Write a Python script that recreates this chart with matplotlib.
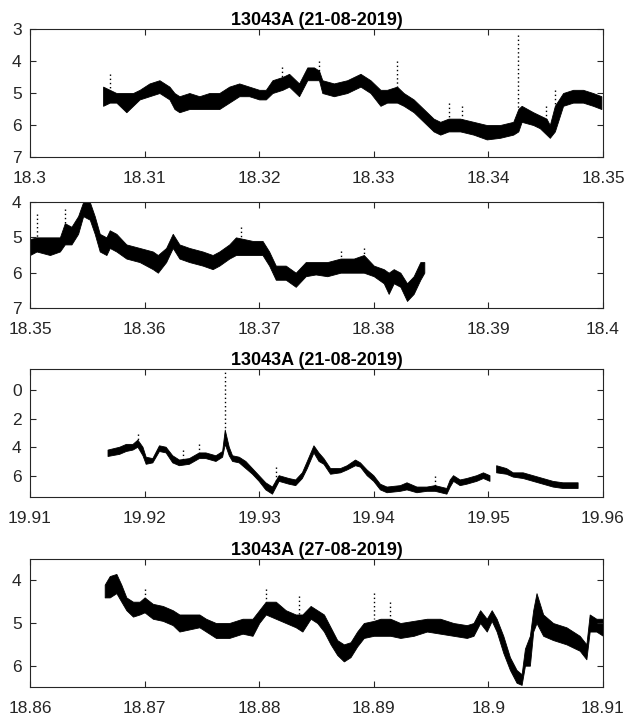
import numpy as np
import matplotlib.pyplot as plt

plt.rcParams['font.family'] = ['Liberation Sans', 'DejaVu Sans']

# ---- panel 1 : 13043A (21-08-2019), 18.30 - 18.35 ----
p1_x = [18.30638, 18.30696, 18.30754, 18.30841, 18.30899, 18.30957, 18.31043, 18.3113,
        18.31217, 18.31261, 18.31304, 18.31391, 18.31478, 18.31565, 18.31652, 18.31739,
        18.31826, 18.31913, 18.32, 18.32058, 18.32116, 18.32203, 18.32261, 18.32348,
        18.3242, 18.32478, 18.32522, 18.32551, 18.32652, 18.32768, 18.32884, 18.32971,
        18.33058, 18.33116, 18.33203, 18.33261, 18.33348, 18.33435, 18.33522, 18.3358,
        18.33652, 18.33754, 18.3387, 18.33986, 18.34101, 18.34217, 18.34261, 18.3429,
        18.34391, 18.34449, 18.34507, 18.34536, 18.3458, 18.34652, 18.34739, 18.34826,
        18.34913, 18.34986]
p1_lo = [4.8, 4.9, 5.0, 5.0, 5.0, 4.9, 4.7, 4.6, 4.8, 5.0, 5.1, 5.0, 5.1, 5.0, 5.0, 4.8,
         4.7, 4.8, 4.9, 4.9, 4.6, 4.5, 4.4, 4.7, 4.2, 4.2, 4.3, 4.6, 4.7, 4.6, 4.4, 4.6,
         4.9, 4.9, 4.8, 5.0, 5.2, 5.5, 5.8, 5.9, 5.8, 5.8, 5.9, 6.0, 6.0, 5.9, 5.5, 5.4,
         5.6, 5.7, 5.8, 6.0, 5.4, 5.0, 4.9, 4.9, 5.0, 5.1]
p1_hi = [5.4, 5.3, 5.3, 5.6, 5.4, 5.2, 5.1, 5.0, 5.2, 5.5, 5.6, 5.5, 5.5, 5.5, 5.5, 5.3,
         5.1, 5.1, 5.2, 5.2, 5.0, 4.9, 4.8, 5.1, 4.6, 4.6, 4.6, 5.0, 5.1, 5.0, 4.8, 5.0,
         5.4, 5.3, 5.3, 5.4, 5.6, 5.9, 6.2, 6.3, 6.2, 6.2, 6.3, 6.45, 6.4, 6.3, 6.2, 5.9,
         6.0, 6.1, 6.3, 6.4, 6.2, 5.4, 5.3, 5.3, 5.4, 5.5]
p1_spk_x = [18.30696, 18.32203, 18.32522, 18.33203, 18.33652, 18.33774, 18.34261, 18.34507, 18.3458]
p1_spk_top = [4.4, 4.2, 4.0, 4.0, 5.3, 5.4, 3.2, 5.4, 4.9]
p1_spk_base = [4.9, 4.5, 4.3, 4.8, 5.8, 5.8, 5.5, 5.8, 5.4]

# ---- panel 2 : continuation, 18.35 - 18.40 ----
p2_x = [18.35, 18.35058, 18.35174, 18.35261, 18.35304, 18.35362, 18.3542, 18.35464,
        18.35522, 18.35565, 18.35609, 18.35667, 18.35696, 18.35754, 18.35841, 18.35957,
        18.36072, 18.36116, 18.36188, 18.36246, 18.36304, 18.36391, 18.36507, 18.36594,
        18.36652, 18.36739, 18.36797, 18.36942, 18.37029, 18.37087, 18.37145, 18.37232,
        18.37319, 18.37406, 18.37493, 18.37594, 18.3771, 18.37826, 18.37913, 18.38,
        18.38087, 18.3813, 18.38174, 18.38232, 18.3829, 18.38348, 18.38406, 18.38441]
p2_lo = [5.05, 5.0, 5.0, 5.0, 4.6, 4.7, 4.4, 4.0, 4.0, 4.4, 4.9, 5.0, 4.8, 4.9, 5.2, 5.3,
         5.4, 5.5, 5.3, 4.9, 5.2, 5.3, 5.4, 5.5, 5.4, 5.2, 5.0, 5.1, 5.1, 5.4, 5.8, 5.8,
         6.0, 5.7, 5.7, 5.7, 5.6, 5.6, 5.5, 5.8, 5.9, 6.0, 5.9, 6.0, 6.3, 6.1, 5.7, 5.7]
p2_hi = [5.5, 5.4, 5.5, 5.4, 5.2, 5.2, 4.9, 4.4, 4.5, 4.9, 5.4, 5.5, 5.3, 5.4, 5.6, 5.7,
         5.9, 6.0, 5.7, 5.3, 5.6, 5.7, 5.8, 5.9, 5.8, 5.6, 5.5, 5.5, 5.5, 5.8, 6.2, 6.2,
         6.4, 6.1, 6.05, 6.1, 6.0, 6.0, 6.0, 6.1, 6.3, 6.6, 6.3, 6.4, 6.8, 6.6, 6.2, 6.0]
p2_spk_x = [18.35058, 18.35304, 18.3684, 18.3771, 18.37913]
p2_spk_top = [4.35, 4.2, 4.7, 5.4, 5.3]
p2_spk_base = [5.0, 4.6, 5.0, 5.6, 5.5]

# ---- panel 3 : 13043A (21-08-2019), 19.91 - 19.96 ----
p3_x = [19.91681, 19.91783, 19.91841, 19.91899, 19.91942, 19.91986, 19.92014, 19.92072,
        19.9213, 19.92188, 19.92246, 19.92304, 19.92391, 19.92478, 19.92536, 19.92623,
        19.92681, 19.92704, 19.92739, 19.92768, 19.92826, 19.92884, 19.92942, 19.93,
        19.93058, 19.93116, 19.93174, 19.93261, 19.93319, 19.93377, 19.9342, 19.93478,
        19.93522, 19.93565, 19.93623, 19.9371, 19.93768, 19.93841, 19.93884, 19.93942,
        19.94, 19.94058, 19.94116, 19.94232, 19.9429, 19.94377, 19.94464, 19.94536,
        19.94638, 19.94667, 19.94696, 19.94754, 19.94812, 19.94899, 19.94957, 19.95014,
        19.95043, 19.95072, 19.95159, 19.95217, 19.95304, 19.95391, 19.95478, 19.95565,
        19.95652, 19.95783]
p3_lo = [4.2, 4.0, 3.8, 3.8, 3.5, 4.0, 4.7, 4.8, 3.9, 4.0, 4.6, 4.9, 4.8, 4.4, 4.4, 4.6,
         4.3, 2.8, 4.0, 4.6, 4.7, 5.0, 5.5, 6.0, 6.5, 6.8, 6.0, 6.2, 6.3, 5.8, 5.0, 3.9,
         4.4, 4.8, 5.5, 5.5, 5.3, 4.9, 5.1, 5.6, 6.0, 6.6, 6.8, 6.7, 6.5, 6.8, 6.8, 6.7,
         6.9, 6.3, 6.0, 6.3, 6.2, 6.0, 5.8, 6.0, np.nan, 5.3, 5.5, 5.8, 5.8, 6.0, 6.2, 6.4,
         6.5, 6.5]
p3_hi = [4.65, 4.5, 4.3, 4.2, 4.0, 4.6, 5.2, 5.1, 4.3, 4.4, 5.1, 5.3, 5.2, 4.8, 4.8, 5.0,
         4.7, 3.8, 4.6, 5.0, 5.1, 5.5, 5.9, 6.4, 7.0, 7.3, 6.4, 6.6, 6.7, 6.2, 5.5, 4.4,
         5.0, 5.2, 5.9, 5.8, 5.6, 5.3, 5.4, 6.0, 6.4, 7.0, 7.2, 7.1, 7.0, 7.2, 7.1, 7.1,
         7.3, 6.8, 6.4, 6.7, 6.6, 6.4, 6.2, 6.4, np.nan, 5.8, 5.9, 6.1, 6.2, 6.4, 6.6, 6.8,
         6.9, 6.9]
p3_spk_x = [19.91942, 19.92333, 19.92478, 19.92704, 19.93145, 19.94536]
p3_spk_top = [3.1, 4.2, 3.8, -1.6, 5.4, 6.0]
p3_spk_base = [3.5, 4.9, 4.4, 2.8, 6.6, 6.7]

# ---- panel 4 : 13043A (27-08-2019), 18.86 - 18.91 ----
p4_x = [18.86652, 18.86696, 18.86754, 18.86797, 18.86841, 18.86899, 18.86957, 18.87,
        18.87072, 18.87159, 18.87246, 18.87304, 18.87391, 18.87478, 18.87536, 18.87623,
        18.87739, 18.87855, 18.87942, 18.88, 18.88058, 18.88145, 18.88232, 18.88319,
        18.88377, 18.88449, 18.88507, 18.88565, 18.88623, 18.88681, 18.88739, 18.88797,
        18.88855, 18.88913, 18.89, 18.89058, 18.89145, 18.89232, 18.89348, 18.89464,
        18.8958, 18.89696, 18.89812, 18.8987, 18.89928, 18.89986, 18.90029, 18.90072,
        18.9013, 18.90188, 18.90246, 18.9029, 18.90319, 18.90362, 18.90391, 18.9042,
        18.90478, 18.90565, 18.90681, 18.90797, 18.90855, 18.90884, 18.90942, 18.91]
p4_lo = [4.1, 3.9, 3.85, 4.1, 4.4, 4.5, 4.5, 4.4, 4.55, 4.6, 4.7, 4.8, 4.8, 4.8, 4.9, 5.0,
         5.0, 4.9, 4.9, 4.7, 4.5, 4.5, 4.7, 4.8, 4.8, 4.6, 4.7, 4.8, 5.1, 5.4, 5.5, 5.45,
         5.2, 5.0, 4.95, 4.9, 4.9, 5.0, 4.95, 4.9, 4.9, 5.0, 5.05, 5.0, 4.7, 4.9, 4.7, 4.9,
         5.3, 5.8, 6.1, 6.2, 5.6, 5.3, 4.7, 4.3, 4.8, 5.0, 5.1, 5.3, 5.5, 4.8, 4.9, 4.9]
p4_hi = [4.4, 4.4, 4.3, 4.5, 4.7, 4.85, 4.8, 4.75, 4.9, 4.95, 5.05, 5.2, 5.15, 5.1, 5.2, 5.35,
         5.35, 5.25, 5.3, 5.0, 4.8, 4.9, 5.0, 5.1, 5.2, 4.9, 5.0, 5.2, 5.5, 5.75, 5.9, 5.8,
         5.55, 5.35, 5.3, 5.3, 5.3, 5.35, 5.3, 5.2, 5.25, 5.3, 5.35, 5.3, 5.0, 5.2, 4.95, 5.2,
         5.7, 6.1, 6.4, 6.45, 6.0, 6.0, 5.2, 5.0, 5.3, 5.4, 5.5, 5.65, 5.85, 5.2, 5.2, 5.3]
p4_spk_x = [18.87, 18.88058, 18.88348, 18.89006, 18.89145]
p4_spk_top = [4.2, 4.2, 4.36, 4.3, 4.5]
p4_spk_base = [4.45, 4.5, 4.8, 4.9, 4.9]

titles = ['13043A (21-08-2019)', '', '13043A (21-08-2019)', '13043A (27-08-2019)']
xlims = [(18.30, 18.35), (18.35, 18.40), (19.91, 19.96), (18.86, 18.91)]
ylims = [(3, 7), (4, 7), (-1.5, 7.5), (3.5, 6.5)]
xtick_labels = [['18.3', '18.31', '18.32', '18.33', '18.34', '18.35'],
                ['18.35', '18.36', '18.37', '18.38', '18.39', '18.4'],
                ['19.91', '19.92', '19.93', '19.94', '19.95', '19.96'],
                ['18.86', '18.87', '18.88', '18.89', '18.9', '18.91']]
yticks = [[3, 4, 5, 6, 7], [4, 5, 6, 7], [0, 2, 4, 6], [4, 5, 6]]

# axes boxes in figure fractions [left, bottom, width, height]
boxes = [[0.0478, 0.7819, 0.9139, 0.1778],
         [0.0478, 0.5722, 0.9139, 0.1472],
         [0.0478, 0.3097, 0.9139, 0.1778],
         [0.0478, 0.0458, 0.9139, 0.1778]]

data = [(p1_x, p1_lo, p1_hi, p1_spk_x, p1_spk_top, p1_spk_base),
        (p2_x, p2_lo, p2_hi, p2_spk_x, p2_spk_top, p2_spk_base),
        (p3_x, p3_lo, p3_hi, p3_spk_x, p3_spk_top, p3_spk_base),
        (p4_x, p4_lo, p4_hi, p4_spk_x, p4_spk_top, p4_spk_base)]

grey = '#262626'
fig = plt.figure(figsize=(6.27, 7.2), dpi=100)

for i in range(4):
    ax = fig.add_axes(boxes[i])
    x, lo, hi, sx, stop, sbase = data[i]
    x = np.array(x)
    lo = np.array(lo)
    hi = np.array(hi)
    # dense cloud of points drawn as its envelope
    ax.fill_between(x, lo, hi, color='k', lw=0.6, edgecolor='k')
    # isolated spikes, dotted
    ax.vlines(sx, stop, sbase, colors='k', linestyles=(0, (1, 2)), lw=1.0)

    ax.set_xlim(xlims[i])
    ax.set_ylim(ylims[i][1], ylims[i][0])  # reversed, like axis ij
    ticks = np.linspace(xlims[i][0], xlims[i][1], 6)
    ax.set_xticks(ticks)
    ax.set_xticklabels(xtick_labels[i])
    ax.set_yticks(yticks[i])
    ax.tick_params(direction='in', top=True, right=True, length=4, width=0.8,
                   colors=grey, labelsize=12.5)
    ax.tick_params(axis='x', pad=10)
    ax.tick_params(axis='y', pad=6)
    for s in ax.spines.values():
        s.set_color(grey)
        s.set_linewidth(0.8)
    if titles[i]:
        ax.set_title(titles[i], fontsize=13, fontweight='bold', color='k', pad=3)

fig.savefig('out.png', dpi=100)
